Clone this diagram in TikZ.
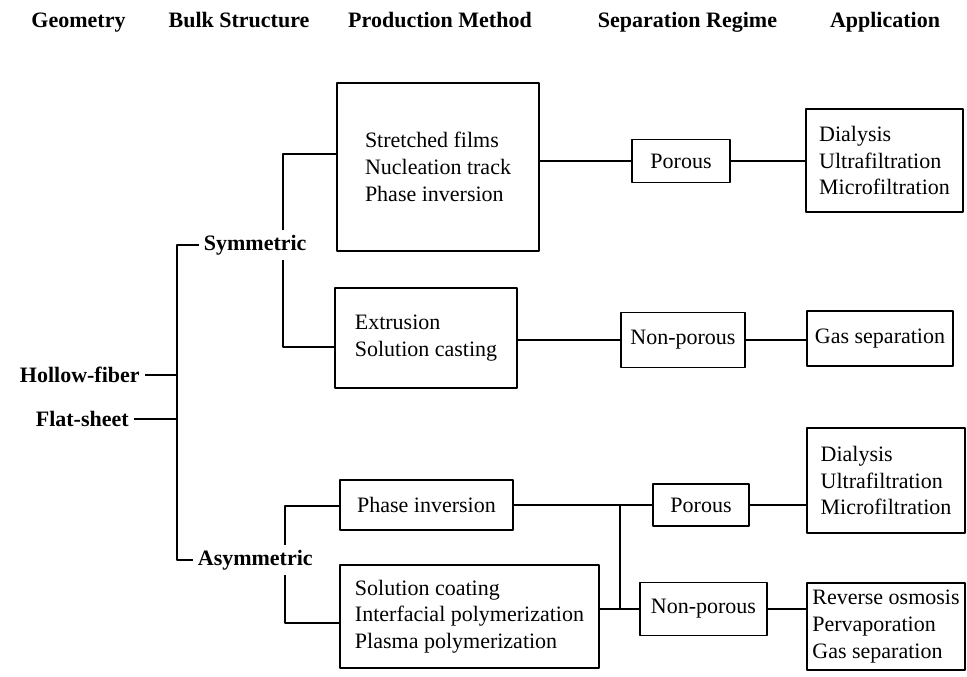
\documentclass[tikz,border=0pt]{standalone}
\usepackage{fontspec}
\setmainfont{Liberation Serif}
\begin{document}
\begin{tikzpicture}[x=0.75pt, y=-0.75pt, line width=1.3pt, line join=round,
  font=\fontsize{16.5}{20}\selectfont,
  box/.style={draw, align=left, inner sep=4pt},
  head/.style={font=\fontsize{16.5}{20}\selectfont\bfseries}]
\useasboundingbox (0,0) rectangle (967,677);

% column headers
\node[head, anchor=base] (hgeo) at (78.5,28) {Geometry};
\node[head, anchor=base] (hbulk) at (239,28) {Bulk Structure};
\node[head, anchor=base] (hprod) at (440,28) {Production Method};
\node[head, anchor=base] (hsep) at (687.5,28) {Separation Regime};
\node[head, anchor=base] (happ) at (885,28) {Application};

% geometry and bulk structure
\node[head, anchor=east] (hollow) at (145,375) {Hollow-fiber};
\node[head, anchor=east] (flat) at (134,419) {Flat-sheet};
\node[head, anchor=west, inner sep=3pt] (sym) at (199,245) {Symmetric};
\node[head, anchor=west, inner sep=3pt] (asym) at (193,560) {Asymmetric};

% production methods
\node[box, minimum width=151.5pt, minimum height=126pt] (stretch) at (438,167) {Stretched films\\Nucleation track\\Phase inversion};
\node[box, minimum width=136.5pt, minimum height=75pt] (extru) at (426,338) {Extrusion\\Solution casting};
\node[box, minimum width=129.75pt, minimum height=37.5pt] (phinv) at (426.5,505) {Phase inversion};
\node[box, minimum width=194.25pt, minimum height=77.25pt] (coat) at (469.5,616.5) {Solution coating\\Interfacial polymerization\\Plasma polymerization};

% separation regimes
\node[box, minimum width=73.5pt, minimum height=32.25pt] (por1) at (681,161) {Porous};
\node[box, minimum width=93pt, minimum height=41.25pt] (nonpor1) at (683,340) {Non-porous};
\node[box, minimum width=72pt, minimum height=31.5pt] (por2) at (701,505) {Porous};
\node[box, minimum width=95.25pt, minimum height=39.75pt] (nonpor2) at (703.5,609) {Non-porous};

% applications
\node[box, minimum width=117.75pt, minimum height=77.25pt] (app1) at (884.5,160.5) {Dialysis\\Ultrafiltration\\Microfiltration};
\node[box, minimum width=109.5pt, minimum height=41.25pt] (gas) at (880,338.5) {Gas separation};
\node[box, minimum width=118.5pt, minimum height=78.75pt] (app3) at (886,480.5) {Dialysis\\Ultrafiltration\\Microfiltration};
\node[box, minimum width=118.5pt, minimum height=65.25pt] (app4) at (886,626.5) {Reverse osmosis\\Pervaporation\\Gas separation};

% left trunk
\coordinate (trunk) at (177,400);
\draw (sym.west) -- (sym.west -| trunk) -- (asym.west -| trunk) -- (asym.west);
\draw (hollow.east) -- (hollow.east -| trunk);
\draw (flat.east) -- (flat.east -| trunk);

% symmetric branch
\coordinate (sj) at (283,154);
\coordinate (sk) at (283,347);
\draw (stretch.west |- sj) -- (sj) -- (sym.north -| sj);
\draw (sym.south -| sj) -- (sk) -- (sk -| extru.west);

% asymmetric branch
\coordinate (aj) at (285,506);
\coordinate (ak) at (285,623);
\draw (phinv.west |- aj) -- (aj) -- (asym.north -| aj);
\draw (asym.south -| aj) -- (ak) -- (ak -| coat.west);

% to separation regime and application
\draw (stretch.east |- por1) -- (por1.west);
\draw (por1.east) -- (por1.east -| app1.west);
\draw (extru.east |- nonpor1) -- (nonpor1.west);
\draw (nonpor1.east) -- (nonpor1.east -| gas.west);
\coordinate (mix) at (620,560);
\draw (phinv.east) -- (phinv.east -| por2.west);
\draw (coat.east |- nonpor2) -- (nonpor2.west);
\draw (mix |- por2) -- (mix |- nonpor2);
\draw (por2.east) -- (por2.east -| app3.west);
\draw (nonpor2.east) -- (nonpor2.east -| app4.west);
\end{tikzpicture}
\end{document}
